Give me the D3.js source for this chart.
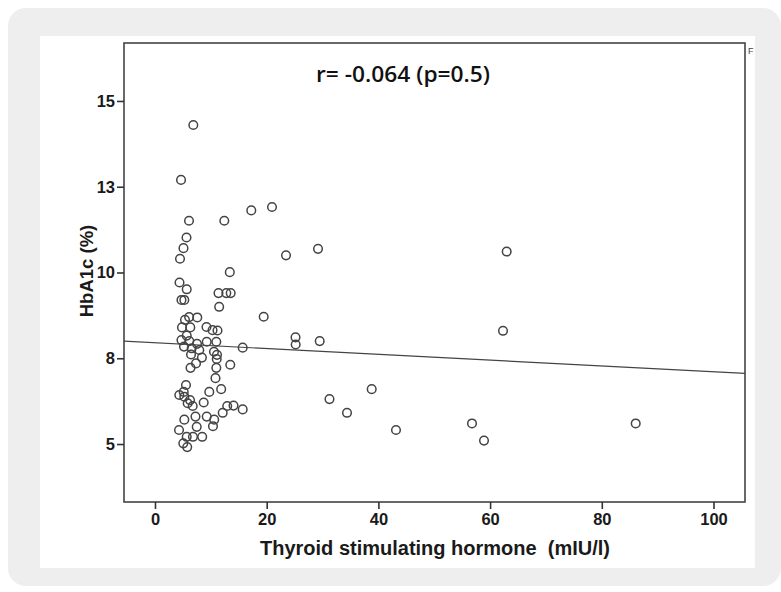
<!DOCTYPE html>
<html>
<head>
<meta charset="utf-8">
<script src="https://cdn.jsdelivr.net/npm/d3@7"></script>
<style>
html,body{margin:0;padding:0;background:#ffffff;}
svg{display:block;}
</style>
</head>
<body>
<svg id="chart" width="781" height="592"></svg>
<script>
// ---- data ----
const tsh = [6.86,4.66,6.09,12.41,17.24,20.95,5.64,5.10,4.48,13.39,4.39,5.68,4.74,5.25,11.37,12.77,13.55,11.49,6.11,7.57,5.37,4.83,6.32,9.22,10.30,11.19,5.68,4.74,6.14,7.52,9.26,10.98,5.19,6.57,7.93,10.56,11.10,15.70,6.45,8.40,7.34,11.05,6.36,10.98,13.48,10.83,5.55,5.14,4.35,5.25,6.27,5.85,6.75,9.72,11.85,8.72,12.93,14.06,15.70,12.12,5.25,7.25,9.26,10.60,4.30,7.47,10.38,5.68,6.80,8.45,5.07,5.77,19.46,25.16,25.19,29.49,23.46,29.19,31.24,34.38,38.80,43.15,56.76,58.91,62.31,62.97,86.07];
const hba1c = [14.30,12.70,11.51,11.51,11.81,11.91,11.02,10.71,10.40,10.01,9.71,9.51,9.20,9.20,9.40,9.40,9.40,9.00,8.70,8.69,8.62,8.40,8.40,8.41,8.32,8.31,8.16,8.03,8.00,7.92,7.98,7.98,7.84,7.79,7.74,7.69,7.60,7.81,7.61,7.52,7.35,7.48,7.22,7.22,7.31,6.92,6.72,6.52,6.43,6.38,6.28,6.19,6.11,6.52,6.60,6.21,6.11,6.12,6.01,5.91,5.71,5.80,5.80,5.71,5.41,5.50,5.52,5.21,5.21,5.21,5.02,4.91,8.71,8.11,7.90,8.00,10.50,10.69,6.31,5.91,6.60,5.41,5.60,5.10,8.30,10.61,5.60];
const fitIntercept = 7.953;
const fitSlope = -0.00848;
const xTickValues = [0,20,40,60,80,100];
const xTickLabels = ["0","20","40","60","80","100"];
const yTickValues = [5,7.5,10,12.5,15];
const yTickLabels = ["5","8","10","13","15"];
const titleText = "r= -0.064 (p=0.5)";
const xTitle = "Thyroid stimulating hormone  (mIU/l)";
const yTitle = "HbA1c (%)";

// ---- layout ----
const svg = d3.select("#chart");
const L = 124, R = 745, T = 43, B = 502;

// background panels
svg.append("rect").attr("x",8).attr("y",8).attr("width",773).attr("height",578)
  .attr("rx",18).attr("fill","#eeeeee");
svg.append("rect").attr("x",40).attr("y",36).attr("width",715).attr("height",532)
  .attr("fill","#ffffff");

const x = d3.scaleLinear().domain([-5.55,105.64]).range([L,R]);
const y = d3.scaleLinear().domain([3.31,16.69]).range([B,T]);

// frame
svg.append("rect").attr("x",L).attr("y",T).attr("width",R-L).attr("height",B-T)
  .attr("fill","none").attr("stroke","#444").attr("stroke-width",1.6);

const tickFont = "'Liberation Sans Narrow','Arial Narrow','Liberation Sans',Arial,sans-serif";

// x axis
const xAxis = d3.axisBottom(x).tickValues(xTickValues)
  .tickFormat((d,i)=>xTickLabels[i]).tickSize(7).tickSizeOuter(0).tickPadding(4);
const gx = svg.append("g").attr("transform",`translate(0,${B})`).call(xAxis);
gx.select(".domain").remove();
gx.selectAll(".tick line").attr("stroke","#333").attr("stroke-width",1.6);
gx.selectAll(".tick text").attr("fill","#1a1a1a").style("font-family",tickFont)
  .style("font-weight","bold").style("font-size","16.5px");

// y axis
const yAxis = d3.axisLeft(y).tickValues(yTickValues)
  .tickFormat((d,i)=>yTickLabels[i]).tickSize(7).tickSizeOuter(0).tickPadding(2);
const gy = svg.append("g").attr("transform",`translate(${L},0)`).call(yAxis);
gy.select(".domain").remove();
gy.selectAll(".tick line").attr("stroke","#333").attr("stroke-width",1.6);
gy.selectAll(".tick text").attr("fill","#1a1a1a").style("font-family",tickFont)
  .style("font-weight","bold").style("font-size","16.5px");

// regression line
const xd = x.domain();
svg.append("line")
  .attr("x1",x(xd[0])).attr("y1",y(fitIntercept+fitSlope*xd[0]))
  .attr("x2",x(xd[1])).attr("y2",y(fitIntercept+fitSlope*xd[1]))
  .attr("stroke","#444").attr("stroke-width",1.2);

// points
svg.append("g").selectAll("circle").data(tsh.map((v,i)=>[v,hba1c[i]])).join("circle")
  .attr("cx",d=>x(d[0])).attr("cy",d=>y(d[1])).attr("r",4.3)
  .attr("fill","none").attr("stroke","#444").attr("stroke-width",1.5);

// title
svg.append("text").attr("x",403).attr("y",82).attr("text-anchor","middle")
  .style("font-family","'Open Sans','Noto Sans',sans-serif").style("font-weight","600")
  .style("font-size","21px").attr("textLength",174).attr("lengthAdjust","spacingAndGlyphs")
  .attr("fill","#111").text(titleText);

// axis titles
svg.append("text").attr("x",435).attr("y",555).attr("text-anchor","middle")
  .style("white-space","pre")
  .style("font-family","'Liberation Sans',Arial,sans-serif").style("font-weight","bold")
  .style("font-size","20px").attr("fill","#1a1a1a").text(xTitle);
svg.append("text").attr("transform","translate(93,271) rotate(-90)").attr("text-anchor","middle")
  .style("font-family","'Liberation Sans',Arial,sans-serif").style("font-weight","bold")
  .style("font-size","18.5px").attr("fill","#1a1a1a").text(yTitle);

// small clipped glyph at top right
svg.append("text").attr("x",748).attr("y",54)
  .style("font-family","'Liberation Sans',Arial,sans-serif").style("font-size","9px")
  .attr("fill","#444").text("F");
</script>
</body>
</html>
